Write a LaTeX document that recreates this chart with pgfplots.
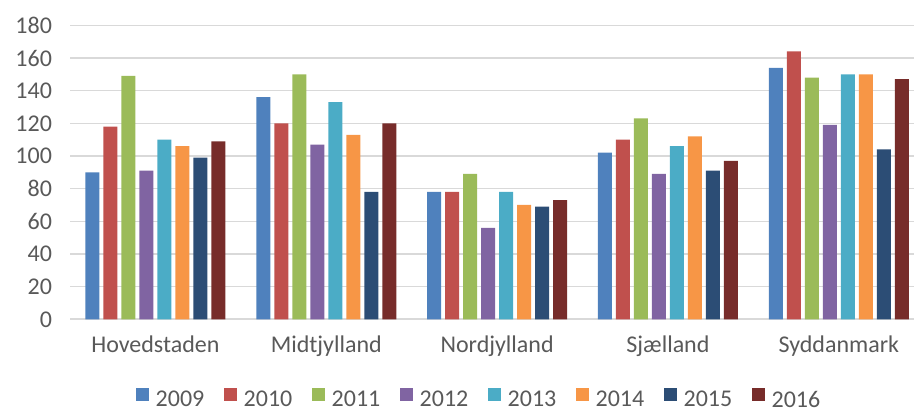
\documentclass[border=0pt]{standalone}
\usepackage{pgfplots}
\pgfplotsset{compat=1.18}
\usepackage{fontspec}
\setmainfont{Carlito}
\definecolor{c09}{HTML}{4F81BD}
\definecolor{c10}{HTML}{C0504D}
\definecolor{c11}{HTML}{9BBB59}
\definecolor{c12}{HTML}{8064A2}
\definecolor{c13}{HTML}{4BACC6}
\definecolor{c14}{HTML}{F79646}
\definecolor{c15}{HTML}{2C4D75}
\definecolor{c16}{HTML}{772C2A}
\definecolor{txt}{HTML}{595959}
\definecolor{grd}{HTML}{D9D9D9}
\begin{document}
\begin{tikzpicture}
\path[use as bounding box] (-52.5pt,-69.75pt) rectangle (633pt,239.5pt);
\begin{axis}[
  at={(0,0)}, anchor=south west,
  scale only axis, width=633pt, height=220.5pt,
  ybar=3pt, bar width=10.5pt,
  xmin=-0.5, xmax=4.44, ymin=0, ymax=180,
  ytick={0,20,...,180},
  xtick={0,1,2,3,4},
  xticklabels={Hovedstaden,Midtjylland,Nordjylland,Sjælland,Syddanmark},
  axis line style={draw=none},
  major tick length=0pt,
  ymajorgrids, grid style={grd, line width=1.2pt},
  font=\fontsize{18}{21}\selectfont,
  tick label style={text=txt},
  xticklabel style={yshift=-9pt},
  yticklabel style={xshift=-10pt},
  /pgf/number format/assume math mode=true,
  legend style={draw=none, fill=none, at={(0.485,-0.274)}, anchor=center, legend columns=8,
    font=\fontsize{18}{21}\selectfont, text=txt,
    /tikz/every odd column/.append style={column sep=3pt},
    /tikz/every even column/.append style={column sep=12.5pt}},
  legend cell align=left,
  legend image code/.code={\fill[#1] (0pt,-1pt) rectangle (10pt,9pt);},
  extra y ticks={0}, extra y tick labels={},
  extra y tick style={grid style={grd, line width=1.5pt}},
]
\addplot[fill=c09, draw=none] coordinates {(0,90) (1,136) (2,78) (3,102) (4,154)};
\addplot[fill=c10, draw=none] coordinates {(0,118) (1,120) (2,78) (3,110) (4,164)};
\addplot[fill=c11, draw=none] coordinates {(0,149) (1,150) (2,89) (3,123) (4,148)};
\addplot[fill=c12, draw=none] coordinates {(0,91) (1,107) (2,56) (3,89) (4,119)};
\addplot[fill=c13, draw=none] coordinates {(0,110) (1,133) (2,78) (3,106) (4,150)};
\addplot[fill=c14, draw=none] coordinates {(0,106) (1,113) (2,70) (3,112) (4,150)};
\addplot[fill=c15, draw=none] coordinates {(0,99) (1,78) (2,69) (3,91) (4,104)};
\addplot[fill=c16, draw=none] coordinates {(0,109) (1,120) (2,73) (3,97) (4,147)};
\legend{2009,2010,2011,2012,2013,2014,2015,2016}
\end{axis}
\end{tikzpicture}
\end{document}
